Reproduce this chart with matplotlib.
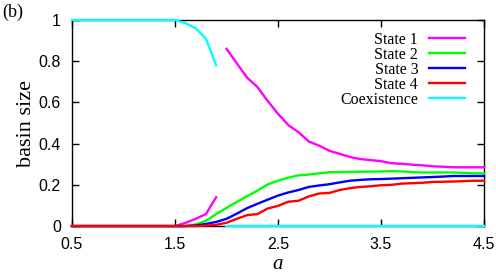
import numpy as np
import matplotlib
matplotlib.use("Agg")
import matplotlib.pyplot as plt

a = np.round(np.arange(0.5, 4.5001, 0.1), 2)

state1 = [0]*11 + [0.015, 0.035, 0.058, 0.14,
          0.86, 0.79, 0.72, 0.675, 0.607, 0.545, 0.49, 0.455, 0.41, 0.39,
          0.365, 0.35, 0.335, 0.325, 0.32, 0.315, 0.305, 0.302, 0.298, 0.295,
          0.29, 0.288, 0.285, 0.285, 0.285, 0.285]
state2 = [0]*12 + [0.008, 0.025, 0.058,
          0.088, 0.117, 0.145, 0.172, 0.202, 0.22, 0.235, 0.246, 0.25, 0.256,
          0.261, 0.262, 0.263, 0.264, 0.264, 0.265, 0.266, 0.265, 0.262, 0.26,
          0.26, 0.26, 0.26, 0.258, 0.256, 0.256]
state3 = [0]*12 + [0.003, 0.01, 0.02,
          0.035, 0.06, 0.087, 0.108, 0.128, 0.148, 0.163, 0.175, 0.19, 0.197,
          0.203, 0.212, 0.22, 0.224, 0.227, 0.228, 0.23, 0.232, 0.234, 0.236,
          0.238, 0.24, 0.243, 0.243, 0.243, 0.243]
state4 = [0]*13 + [0.002, 0.006,
          0.016, 0.035, 0.053, 0.058, 0.085, 0.098, 0.118, 0.123, 0.144, 0.158,
          0.161, 0.175, 0.184, 0.19, 0.193, 0.198, 0.2, 0.206, 0.208, 0.21,
          0.214, 0.215, 0.216, 0.218, 0.22, 0.22]
coexistence = [1.0]*11 + [0.985, 0.96, 0.91, 0.78] + [0]*26

labels = ["State 1", "State 2", "State 3", "State 4", "Coexistence"]
colors = ["#ff00ff", "#00ff00", "#0000ff", "#ff0000", "#00ffff"]
xticks = [0.5, 1.5, 2.5, 3.5, 4.5]
yticks = [0, 0.2, 0.4, 0.6, 0.8, 1]

fig = plt.figure(figsize=(4.96, 2.74), dpi=100)
ax = fig.add_axes([0.145, 0.175, 0.831, 0.752])

serif = ["Liberation Serif", "DejaVu Serif"]
sans = ["Liberation Sans", "DejaVu Sans"]
lw = 1.7

series = [state1, state2, state3, state4, coexistence]
split = a < 1.95
for vals, lab, col in zip(series, labels, colors):
    v = np.array(vals, dtype=float)
    kw = dict(color=col, lw=lw, clip_on=False, zorder=3)
    if lab in ("State 1", "Coexistence"):
        ax.plot(a[split], v[split], label=lab, **kw)
        ax.plot(a[~split], v[~split], **kw)
    else:
        ax.plot(a, v, label=lab, **kw)

ax.set_xlim(0.5, 4.5)
ax.set_ylim(0, 1)
ax.set_xticks(xticks)
ax.set_xticklabels([f"{t:g}" for t in xticks], family=sans, fontsize=11.5)
ax.set_yticks(yticks)
ax.set_yticklabels([f"{t:g}" for t in yticks], family=sans, fontsize=11.5)
ax.tick_params(direction="in", length=5, width=1, top=True, right=True, pad=8)
for s in ax.spines.values():
    s.set_linewidth(1)

ax.set_xlabel("a", family=serif, style="italic", fontsize=15, labelpad=2)
ax.set_ylabel("basin size", family=serif, fontsize=16, labelpad=2)
fig.text(0.005, 0.955, "(b)", family=serif, fontsize=13, ha="left", va="center")

leg = ax.legend(loc="upper right", bbox_to_anchor=(0.968, 0.975), frameon=False,
                markerfirst=False, prop={"family": serif, "size": 11.5},
                labelspacing=-0.06, handlelength=2.2, handletextpad=0.7,
                borderaxespad=0.2, borderpad=0.2)
for t in leg.get_texts():
    t.set_ha("right")

fig.savefig("out.png", dpi=100)
